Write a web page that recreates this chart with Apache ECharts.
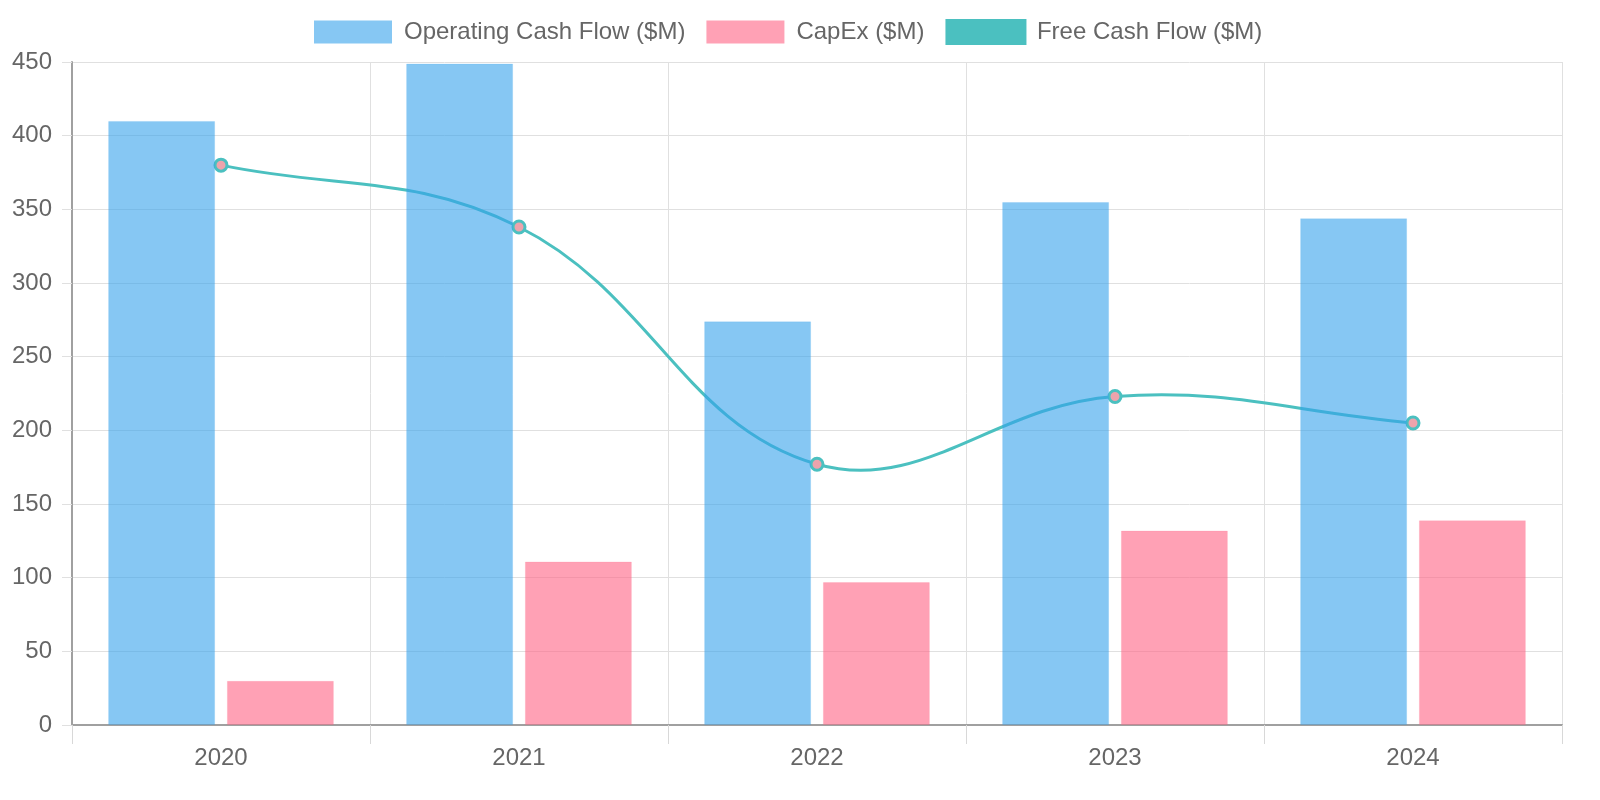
<!DOCTYPE html>
<html>
<head>
<meta charset="utf-8">
<script src="https://cdn.jsdelivr.net/npm/echarts@6/dist/echarts.min.js"></script>
<style>html,body{margin:0;padding:0;background:#fff}#c{width:1600px;height:800px}</style>
</head>
<body>
<div id="c"></div>
<script>
var years = ['2020', '2021', '2022', '2023', '2024'];
var operatingCashFlow = [410, 449, 274, 355, 344];
var capex = [30, 111, 97, 132, 139];
var freeCashFlow = [380, 338, 177, 223, 205];

var font = "'Liberation Sans', Arial, Helvetica, sans-serif";
var TENSION = 0.4;

function splinePath(pts) {
  var n = pts.length, cps = [];
  for (var i = 0; i < n; i++) {
    var prev = pts[i - 1] || pts[i], cur = pts[i], next = pts[i + 1] || pts[i];
    var d01 = Math.hypot(cur[0] - prev[0], cur[1] - prev[1]);
    var d12 = Math.hypot(next[0] - cur[0], next[1] - cur[1]);
    var s = d01 + d12 || 1;
    var fa = TENSION * d01 / s, fb = TENSION * d12 / s;
    var vx = next[0] - prev[0], vy = next[1] - prev[1];
    cps.push({p: [cur[0] - fa * vx, cur[1] - fa * vy], n: [cur[0] + fb * vx, cur[1] + fb * vy]});
  }
  var d = 'M' + pts[0][0] + ' ' + pts[0][1];
  for (var j = 1; j < n; j++) {
    d += ' C' + cps[j - 1].n[0] + ' ' + cps[j - 1].n[1] + ' ' + cps[j].p[0] + ' ' + cps[j].p[1] + ' ' + pts[j][0] + ' ' + pts[j][1];
  }
  return d;
}

var chart = echarts.init(document.getElementById('c'));
chart.setOption({
  animation: false,
  textStyle: {fontFamily: font},
  legend: {
    top: 14,
    left: 309,
    itemWidth: 78,
    itemHeight: 23,
    itemGap: 21,
    textStyle: {fontSize: 24, color: '#666', fontFamily: font, padding: [0, 0, 0, 7]},
    data: [
      {name: 'Operating Cash Flow ($M)', icon: 'rect', itemStyle: {color: '#86C7F3', borderWidth: 0}},
      {name: 'CapEx ($M)', icon: 'rect', itemStyle: {color: '#FFA1B5', borderWidth: 0}},
      {name: 'Free Cash Flow ($M)', icon: 'rect', itemStyle: {color: '#4BC0C0', borderColor: '#4BC0C0', borderWidth: 3}}
    ]
  },
  grid: {left: 72, right: 38, top: 62, bottom: 75, containLabel: false},
  xAxis: {
    type: 'category',
    data: years,
    boundaryGap: true,
    axisLine: {lineStyle: {color: '#a0a0a0', width: 2}},
    axisTick: {show: true, length: 19, lineStyle: {color: '#d8d8d8', width: 1}},
    axisLabel: {fontSize: 24, color: '#666', margin: 21, fontFamily: font},
    splitLine: {show: true, lineStyle: {color: '#e0e0e0', width: 1}}
  },
  yAxis: {
    type: 'value',
    min: 0,
    max: 450,
    interval: 50,
    axisLine: {show: true, lineStyle: {color: '#a0a0a0', width: 2}},
    axisTick: {show: true, length: 10, lineStyle: {color: '#e0e0e0'}},
    axisLabel: {fontSize: 24, color: '#666', margin: 20, fontFamily: font},
    splitLine: {show: true, lineStyle: {color: '#e0e0e0', width: 1}}
  },
  series: [
    {
      name: 'Operating Cash Flow ($M)',
      type: 'bar',
      data: operatingCashFlow,
      barWidth: 107,
      barGap: '11%',
      z: 3,
      itemStyle: {color: 'rgba(54,162,235,0.6)', borderColor: 'rgba(54,162,235,0.15)', borderWidth: 1}
    },
    {
      name: 'CapEx ($M)',
      type: 'bar',
      data: capex,
      barWidth: 107,
      barGap: '11%',
      z: 3,
      itemStyle: {color: 'rgba(255,99,132,0.6)', borderColor: 'rgba(255,99,132,0.15)', borderWidth: 1}
    },
    {
      name: 'Free Cash Flow ($M)',
      type: 'custom',
      z: 2,
      silent: true,
      data: freeCashFlow.map(function (v, i) { return [i, v]; }),
      encode: {x: 0, y: 1},
      renderItem: function (params, api) {
        if (params.dataIndex !== 0) return null;
        var pts = freeCashFlow.map(function (v, i) { return api.coord([i, v]); });
        return {
          type: 'path',
          shape: {pathData: splinePath(pts)},
          style: {stroke: '#4BC0C0', lineWidth: 3, fill: 'none'}
        };
      }
    },
    {
      name: 'Free Cash Flow ($M)',
      type: 'line',
      data: freeCashFlow,
      z: 2,
      symbol: 'circle',
      symbolSize: 12,
      lineStyle: {width: 0, opacity: 0},
      itemStyle: {color: '#eda3ac', borderColor: '#4BC0C0', borderWidth: 3}
    }
  ]
});
</script>
</body>
</html>
